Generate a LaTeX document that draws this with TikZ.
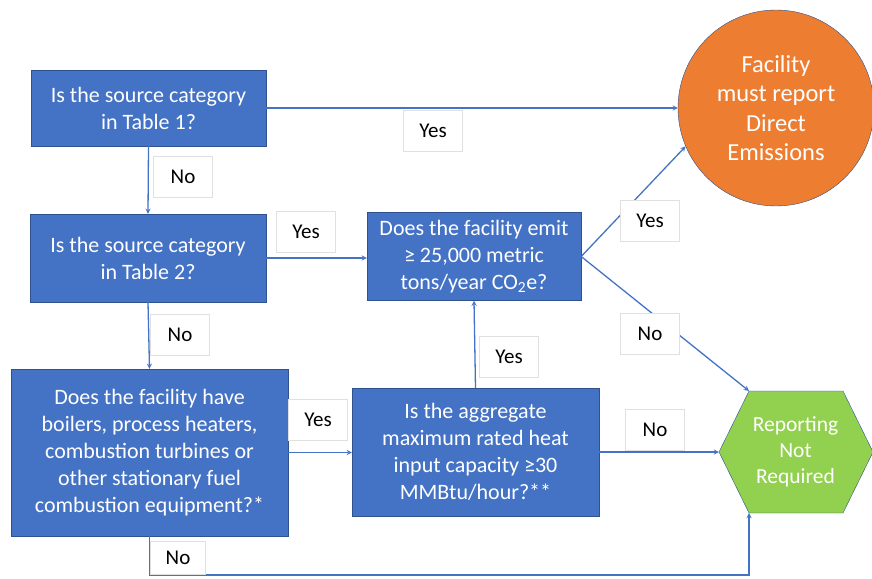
\documentclass[tikz,border=0pt]{standalone}
\usepackage{fontspec}
\setmainfont{Carlito}
\usepackage{tikz}
\usetikzlibrary{shapes.geometric, arrows, positioning}
\definecolor{boxblue}{HTML}{4472C4}
\definecolor{edgeblue}{HTML}{2F528F}
\definecolor{reportorange}{HTML}{ED7D31}
\definecolor{notreqgreen}{HTML}{92D050}
\tikzstyle{question} = [rectangle, draw=edgeblue, fill=boxblue, text=white, align=center, inner sep=0pt, font=\fontsize{22}{27}\selectfont]
\tikzstyle{answer} = [rectangle, draw=black!12, fill=white, minimum width=59pt, minimum height=41pt, font=\fontsize{21}{24}\selectfont]
\tikzstyle{arrow} = [line width=1.3pt, draw=boxblue, ->, >=stealth]

\begin{document}
\begin{tikzpicture}[x=1pt, y=-1pt]
        \useasboundingbox (0,0) rectangle (872,578);
        % Questions
        \node (tab1) [question, minimum width=235pt, minimum height=76pt] at (148.5,108) {Is the source category\\in Table 1?};
        \node (tab2) [question, minimum width=236pt, minimum height=88pt] at (148,258) {Is the source category\\in Table 2?};
        \node (combust) [question, minimum width=277pt, minimum height=167pt] at (149.5,452.5) {Does the facility have\\boilers, process heaters,\\combustion turbines or\\other stationary fuel\\combustion equipment?*};
        \node (aggr) [question, minimum width=247pt, minimum height=128pt] at (475.5,452) {Is the aggregate\\maximum rated heat\\input capacity ≥30\\MMBtu/hour?**};
        \node (emit) [question, minimum width=214pt, minimum height=88pt] at (474,256.5) {Does the facility emit\\≥ 25,000 metric\\tons/year CO\textsubscript{2}e?};
        % Outcomes
        \node (report) [circle, draw=edgeblue, fill=reportorange, text=white, align=center, minimum size=196pt, font=\fontsize{24.5}{29.5}\selectfont] at (776,108) {Facility\\must report\\Direct\\Emissions};
        \coordinate (hexw) at (719,452);
        \coordinate (hexnw) at (749,391);
        \coordinate (hexne) at (843,391);
        \coordinate (hexe) at (873,452);
        \coordinate (hexse) at (843,513);
        \coordinate (hexsw) at (749,513);
        \draw [draw=edgeblue, fill=notreqgreen] (hexw) -- (hexnw) -- (hexne) -- (hexe) -- (hexse) -- (hexsw) -- cycle;
        \node (notreq) [text=white, align=center, font=\fontsize{21.5}{26}\selectfont] at (795.5,452) {Reporting\\Not\\Required};
        \coordinate (floor) at (0,575);
        % Connectors
        \draw [arrow] (tab1.east) -- (report.west);
        \draw [arrow] (tab1.south) -- (tab2.north);
        \draw [arrow] (tab2.east) -- (tab2.east -| emit.west);
        \draw [arrow] (tab2.south) -- (combust.north);
        \draw [arrow] (combust.east) -- (combust.east -| aggr.west);
        \draw [arrow] (aggr.north) -- (emit.south);
        \draw [arrow] (emit.east) -- (report.203);
        \draw [arrow] (emit.east) -- (hexnw);
        \draw [arrow] (aggr.east) -- (hexw);
        \draw [arrow] (combust.south) -- (combust.south |- floor) -| (hexsw);
        % Answers
        \node (yes1) [answer] at (433,131) {Yes};
        \node (no1) [answer] at (183,177) {No};
        \node (yes2) [answer] at (306,232) {Yes};
        \node (no2) [answer] at (180,335) {No};
        \node (yes3) [answer] at (318,420) {Yes};
        \node (yes4) [answer] at (509,357) {Yes};
        \node (yes5) [answer] at (650,221) {Yes};
        \node (no3) [answer] at (650,334) {No};
        \node (no4) [answer] at (655,430) {No};
        \node (no5) [answer, minimum width=55pt, minimum height=33pt] at (178,558) {No};
\end{tikzpicture}
\end{document}
